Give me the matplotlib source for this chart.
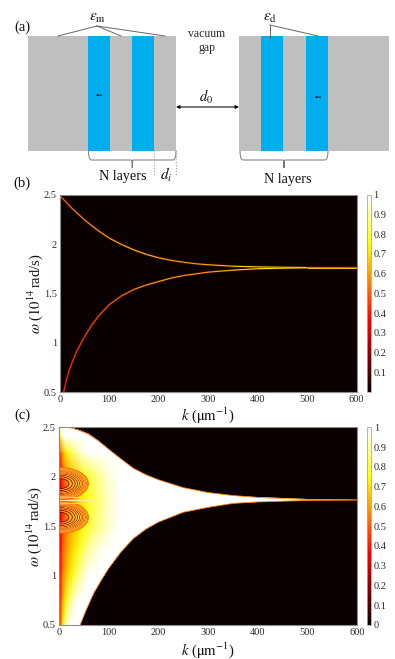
#!/usr/bin/env python3
"""Layered structure sketch and two transmission maps (k, omega)"""
import numpy as np
import matplotlib
matplotlib.use('Agg')
import matplotlib.pyplot as plt
from matplotlib.cm import ScalarMappable
from matplotlib.collections import LineCollection
from matplotlib.colors import Normalize
from matplotlib.patches import Ellipse, PathPatch, Rectangle
from matplotlib.path import Path

plt.rcParams.update({
    'font.family': ['Liberation Serif', 'DejaVu Serif'],
    'mathtext.fontset': 'stix',
    'font.size': 8,
})

W, H = 395, 659
TXT = '#2a2a2a'
EDGE = '#8c8c8c'

# ── values ──────────────────────────────────────────────────────────────────
k_up_b = [0, 10, 25, 50, 75, 100, 125, 150, 175, 200, 225, 250, 275, 300, 350, 400, 450, 500, 600]
w_up_b = [2.49, 2.44, 2.36, 2.245, 2.145, 2.06, 1.995, 1.94, 1.895, 1.86, 1.835, 1.815, 1.80, 1.79, 1.775, 1.768, 1.764, 1.762, 1.76]
v_up_b = [0.5, 0.52, 0.55, 0.58, 0.6, 0.62, 0.64, 0.66, 0.66, 0.64, 0.62, 0.6, 0.6, 0.62, 0.66, 0.7, 0.78, 0.72, 0.55]

k_lo_b = [8, 12, 18, 25, 35, 50, 65, 80, 100, 125, 150, 175, 200, 225, 250, 300, 350, 400, 500, 600]
w_lo_b = [0.5, 0.59, 0.7, 0.8, 0.92, 1.06, 1.18, 1.28, 1.385, 1.475, 1.54, 1.585, 1.62, 1.655, 1.68, 1.715, 1.735, 1.75, 1.76, 1.76]
v_lo_b = [0.42, 0.42, 0.43, 0.44, 0.45, 0.46, 0.47, 0.48, 0.5, 0.52, 0.56, 0.6, 0.62, 0.62, 0.6, 0.6, 0.64, 0.72, 0.72, 0.55]

k_up_c = [0, 20, 40, 60, 80, 100, 125, 150, 175, 200, 250, 300, 350, 400, 450, 500, 600]
w_up_c = [2.5, 2.5, 2.47, 2.43, 2.36, 2.28, 2.18, 2.085, 2.02, 1.97, 1.89, 1.84, 1.81, 1.79, 1.78, 1.77, 1.765]
k_lo_c = [600, 500, 400, 350, 300, 250, 200, 175, 150, 125, 100, 85, 70, 55, 43]
w_lo_c = [1.765, 1.76, 1.745, 1.73, 1.69, 1.64, 1.54, 1.47, 1.375, 1.24, 1.07, 0.95, 0.82, 0.65, 0.5]

k_grid = [0, 4, 8, 14, 20, 30, 40, 50, 60, 80, 100, 125, 600]
w_grid = [0.5, 0.75, 1.0, 1.25, 1.5, 1.76, 2.0, 2.25, 2.4, 2.5]
t_grid = [
    [0.22, 0.52, 0.72, 0.92, 1, 1, 1, 1, 1, 1, 1, 1, 1],
    [0.22, 0.46, 0.6, 0.74, 0.84, 0.95, 1, 1, 1, 1, 1, 1, 1],
    [0.22, 0.42, 0.54, 0.63, 0.7, 0.79, 0.88, 0.95, 1, 1, 1, 1, 1],
    [0.2, 0.38, 0.5, 0.58, 0.64, 0.7, 0.77, 0.85, 0.91, 0.98, 1, 1, 1],
    [0.18, 0.36, 0.47, 0.55, 0.6, 0.65, 0.7, 0.75, 0.8, 0.88, 0.95, 1, 1],
    [0.08, 0.26, 0.4, 0.5, 0.57, 0.62, 0.67, 0.72, 0.78, 0.87, 0.94, 1, 1],
    [0.18, 0.36, 0.47, 0.55, 0.6, 0.65, 0.7, 0.75, 0.8, 0.89, 0.96, 1, 1],
    [0.28, 0.5, 0.62, 0.72, 0.79, 0.86, 0.93, 0.98, 1, 1, 1, 1, 1],
    [0.45, 0.78, 0.95, 1, 1, 1, 1, 1, 1, 1, 1, 1, 1],
    [1, 1, 1, 1, 1, 1, 1, 1, 1, 1, 1, 1, 1],
]

ring_scale = [0.3, 0.42, 0.52, 0.6, 0.67, 0.73, 0.78, 0.83, 0.87, 0.91, 0.95, 0.98]
ring_level = [0.16, 0.18, 0.2, 0.22, 0.25, 0.28, 0.31, 0.34, 0.38, 0.42, 0.46, 0.5]
ring_light = [0.36, 0.47, 0.56, 0.635, 0.70, 0.755, 0.805, 0.85, 0.89, 0.93]

k_ticks = [0, 100, 200, 300, 400, 500, 600]
w_ticks = [0.5, 1, 1.5, 2, 2.5]
w_labels = ['0.5', '1', '1.5', '2', '2.5']
cb_ticks_b = [0.1, 0.2, 0.3, 0.4, 0.5, 0.6, 0.7, 0.8, 0.9, 1]
cb_ticks_c = [0, 0.1, 0.2, 0.3, 0.4, 0.5, 0.6, 0.7, 0.8, 0.9, 1]

fig = plt.figure(figsize=(W / 100, H / 100), dpi=100, facecolor='white')


def px_axes(x0, y0, x1, y1):
    return fig.add_axes([x0 / W, 1 - y1 / H, (x1 - x0) / W, (y1 - y0) / H])


# ── panel (a), drawn in picture pixels ──────────────────────────────────────
sk = fig.add_axes([0, 0, 1, 1], zorder=5)
sk.set_xlim(0, W)
sk.set_ylim(H, 0)
sk.axis('off')
sk.patch.set_alpha(0)

GRAY, BLUE = '#bfbfbf', '#00aeef'
sk.add_patch(Rectangle((27.5, 36), 148.5, 114.5, fc=GRAY, ec='none'))
sk.add_patch(Rectangle((238.5, 36), 150.5, 114.5, fc=GRAY, ec='none'))
for x0, x1 in [(88, 110), (132, 154), (260.5, 282.5), (306, 328)]:
    sk.add_patch(Rectangle((x0, 36), x1 - x0, 114.5, fc=BLUE, ec='none'))
sk.text(99, 94, '...', ha='center', va='center', fontsize=7, color='#111111', fontweight='bold')
sk.text(318, 96, '...', ha='center', va='center', fontsize=7, color='#111111', fontweight='bold')

for xe in [58, 121, 165]:
    sk.plot([97, xe], [26, 36], color='#666666', lw=0.7)
sk.plot([270, 270], [25, 38], color='#666666', lw=0.7)
sk.plot([270, 318], [25, 36], color='#666666', lw=0.7)
sk.text(97, 18.5, r'$\varepsilon_{\rm m}$', ha='center', va='center', fontsize=11, color='#111111')
sk.text(270, 18.5, r'$\varepsilon_{\rm d}$', ha='center', va='center', fontsize=11, color='#111111')
sk.text(207, 34, 'vacuum', ha='center', va='center', fontsize=8.5, color=TXT)
sk.text(207, 48, 'gap', ha='center', va='center', fontsize=8.5, color=TXT)
sk.text(206, 97, r'$d_0$', ha='center', va='center', fontsize=10.5, color='#111111')
sk.annotate('', xy=(176, 107), xytext=(239, 107),
            arrowprops=dict(arrowstyle='<|-|>', color='#111111', lw=0.8, mutation_scale=5,
                            shrinkA=0, shrinkB=0))


def brace(x0, x1, y0=151, y1=160, tip=168):
    xc = (x0 + x1) / 2
    verts = [(x0, y0), (x0, y1), (x0 + 3, y1), (xc - 1, y1), (xc, y1), (xc, tip),
             (xc, y1), (xc + 1, y1), (x1 - 3, y1), (x1, y1), (x1, y0)]
    codes = [Path.MOVETO, Path.CURVE3, Path.CURVE3, Path.LINETO, Path.CURVE3, Path.CURVE3,
             Path.CURVE3, Path.CURVE3, Path.LINETO, Path.CURVE3, Path.CURVE3]
    sk.add_patch(PathPatch(Path(verts, codes), fc='none', ec='#777777', lw=0.7))


brace(88.5, 176)
brace(240, 328)
sk.plot([154, 154], [150, 176], color='#999999', lw=0.8, ls=':')
sk.plot([176, 176], [150, 176], color='#999999', lw=0.8, ls=':')
sk.text(123, 176.5, 'N layers', ha='center', va='center', fontsize=10.2, color='#111111')
sk.text(288, 179, 'N layers', ha='center', va='center', fontsize=10.2, color='#111111')
sk.text(166, 175, r'$d_i$', ha='center', va='center', fontsize=11, color='#111111')
sk.text(22, 27, '(a)', ha='center', va='center', fontsize=10.5, color='#111111')
sk.text(22, 183, '(b)', ha='center', va='center', fontsize=10.5, color='#111111')
sk.text(22, 415, '(c)', ha='center', va='center', fontsize=10.5, color='#111111')


def style_map(ax, xpad):
    ax.set_xlim(0, 600)
    ax.set_ylim(0.5, 2.5)
    ax.set_facecolor(plt.cm.hot(0.0))
    ax.set_xticks(k_ticks)
    ax.set_yticks(w_ticks)
    ax.set_yticklabels(w_labels)
    ax.tick_params(length=0, labelsize=7.5, labelcolor=TXT, pad=2)
    for s in ax.spines.values():
        s.set_color(EDGE)
        s.set_linewidth(0.8)
    ax.set_xlabel(r'$k$ ($\mathrm{\mu m^{-1}}$)', fontsize=10.5, color='#111111', labelpad=xpad)
    ax.set_ylabel(r'$\omega$ ($10^{14}\,$rad/s)', fontsize=10.5, color='#111111', labelpad=-1)


def add_cbar(cax, ticks):
    cb = fig.colorbar(ScalarMappable(Normalize(0, 1), 'hot'), cax=cax, ticks=ticks)
    cb.ax.set_yticklabels([f'{t:g}' for t in ticks])
    cb.ax.tick_params(length=0, labelsize=7.5, labelcolor=TXT, pad=2)
    cb.outline.set_edgecolor('#aaaaaa')
    cb.outline.set_linewidth(0.6)


def ridge(ax, k, w, v, lw):
    pts = np.column_stack([k, w])
    segs = np.stack([pts[:-1], pts[1:]], axis=1)
    mids = (np.array(v[:-1]) + np.array(v[1:])) / 2
    ax.plot(k, w, color='#7a0f00', lw=lw * 2.2, alpha=0.45, solid_capstyle='butt')
    ax.add_collection(LineCollection(segs, array=mids, cmap='hot', norm=Normalize(0, 1), linewidths=lw))


# ── panel (b) ───────────────────────────────────────────────────────────────
ax_b = px_axes(59.7, 194.7, 356.7, 392)
style_map(ax_b, 1)
ridge(ax_b, k_up_b, w_up_b, v_up_b, 0.8)
ridge(ax_b, k_lo_b, w_lo_b, v_lo_b, 0.8)
add_cbar(px_axes(366.7, 194.7, 370.7, 392), cb_ticks_b)

# ── panel (c) ───────────────────────────────────────────────────────────────
ax_c = px_axes(58.7, 427.3, 357.3, 625)
style_map(ax_c, 2.5)
poly_k = k_up_c + k_lo_c + [0, 0]
poly_w = w_up_c + w_lo_c + [0.5, 2.5]
region = plt.Polygon(np.column_stack([poly_k, poly_w]), closed=True, fc='white', ec='none',
                     transform=ax_c.transData)
ax_c.add_patch(region)

mesh = ax_c.pcolormesh(k_grid, w_grid, t_grid, cmap='hot', norm=Normalize(0, 1), shading='gouraud')
mesh.set_clip_path(region)

for wc in [1.93, 1.59]:
    for t, lev in zip(ring_scale, ring_level):
        e = Ellipse((3, wc), 2 * 58 * t, 2 * 0.165 * t, fc='none', ec=plt.cm.hot(lev), lw=0.55)
        ax_c.add_patch(e)
        e.set_clip_path(region)
    for t in ring_light:
        e = Ellipse((3, wc), 2 * 58 * t, 2 * 0.165 * t, fc='none', ec='#ffc838', lw=0.4)
        ax_c.add_patch(e)
        e.set_clip_path(region)
ax_c.plot([2, 62], [1.76, 1.76], color='#fff2a0', lw=0.8)
ax_c.plot([4, 60], [1.795, 1.785], color='#ffe070', lw=0.6)
ax_c.plot([4, 60], [1.725, 1.735], color='#ffe070', lw=0.6)

ax_c.plot(k_up_c, w_up_c, color=plt.cm.hot(0.55), lw=0.6)
ax_c.plot(k_lo_c, w_lo_c, color=plt.cm.hot(0.55), lw=0.6)
add_cbar(px_axes(367.3, 427.3, 371.3, 625), cb_ticks_c)

fig.savefig('out.png', dpi=100)
plt.close(fig)
